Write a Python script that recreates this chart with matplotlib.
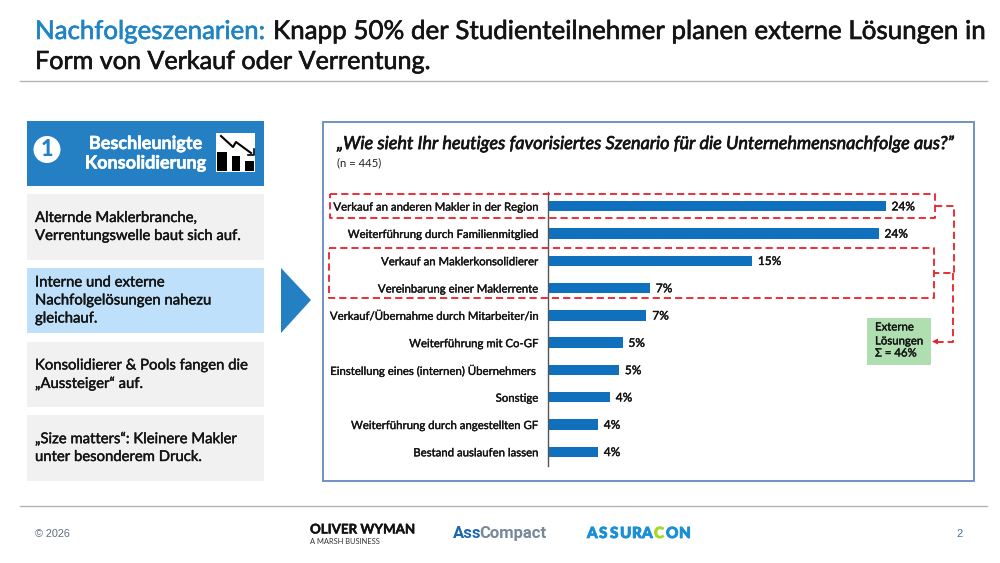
import matplotlib
matplotlib.use("Agg")
import matplotlib.pyplot as plt
import matplotlib.patheffects as pe
from matplotlib.patches import Rectangle, Polygon, Circle

plt.rcParams['font.family'] = ['Lato', 'DejaVu Sans']

categories = ["Verkauf an anderen Makler in der Region", "Weiterführung durch Familienmitglied",
              "Verkauf an Maklerkonsolidierer", "Vereinbarung einer Maklerrente",
              "Verkauf/Übernahme durch Mitarbeiter/in", "Weiterführung mit Co-GF",
              "Einstellung eines (internen) Übernehmers ", "Sonstige",
              "Weiterführung durch angestellten GF", "Bestand auslaufen lassen"]
values = [24.0, 23.5, 14.5, 7.25, 7.0, 5.3, 5.05, 4.4, 3.55, 3.55]
labels = ["24%", "24%", "15%", "7%", "7%", "5%", "5%", "4%", "4%", "4%"]

BLUE = "#2580C3"; BAR = "#0F70BE"; RED = "#E8202A"; INK = "#141414"


def heavy(artist, width=0.35):
    """Thicken regular Lato a little: the reference uses a medium weight."""
    artist.set_path_effects([pe.withStroke(linewidth=width, foreground=artist.get_color())])
    return artist


fig = plt.figure(figsize=(10, 5.63), dpi=100)
bg = fig.add_axes([0, 0, 1, 1]); bg.set_xlim(0, 1000); bg.set_ylim(563, 0); bg.axis("off")

# Title
heavy(bg.text(35, 31.5, "Nachfolgeszenarien:", color="#1F83C4", fontsize=18.6, va="center"), 0.45)
heavy(bg.text(273, 31.5, "Knapp 50% der Studienteilnehmer planen externe Lösungen in", color=INK, fontsize=18.7, va="center"), 0.45)
heavy(bg.text(35, 61.5, "Form von Verkauf oder Verrentung.", color=INK, fontsize=18.1, va="center"), 0.45)
bg.plot([20, 987], [80.5, 80.5], color="#B5B5B5", lw=1)
bg.plot([20, 987], [505.5, 505.5], color="#B5B5B5", lw=1)

# Left column
bg.add_patch(Rectangle((27, 121), 237, 65, color=BLUE, lw=0))
bg.add_patch(Circle((47, 149.5), 13.5, color="white", lw=0))
bg.text(47, 149.5, "1", color=BLUE, fontsize=15.5, ha="center", va="center", fontweight="black")
heavy(bg.text(145.5, 143.5, "Beschleunigte", color="white", fontsize=13, ha="center", va="center", fontweight="bold"), 0.4)
heavy(bg.text(145.5, 163, "Konsolidierung", color="white", fontsize=13, ha="center", va="center", fontweight="bold"), 0.4)
bg.add_patch(Rectangle((216, 133), 39, 39, color="white", lw=0))
for x0, y0, w in [(217, 152, 10), (232, 156, 8), (245, 161, 9)]:
    bg.add_patch(Rectangle((x0, y0), w, 171 - y0, color="black", lw=0))
bg.plot([221, 233, 236, 251], [136, 147, 142, 153], color="black", lw=1.5)
bg.plot([254, 254, 248], [149, 155, 155], color="black", lw=1.2)

boxes = [(194, 66, "#F1F1F1", ["Alternde Maklerbranche,", "Verrentungswelle baut sich auf."]),
         (268, 65, "#BEE0FA", ["Interne und externe", "Nachfolgelösungen nahezu", "gleichauf."]),
         (342, 65, "#F1F1F1", ["Konsolidierer & Pools fangen die", "„Aussteiger“ auf."]),
         (415, 66, "#F1F1F1", ["„Size matters“: Kleinere Makler", "unter besonderem Druck."])]
for y, h, c, lines in boxes:
    bg.add_patch(Rectangle((27, y), 237, h, color=c, lw=0))
    y0 = y + h / 2 - (len(lines) - 1) * 9
    for i, t in enumerate(lines):
        heavy(bg.text(35, y0 + i * 18, t, color=INK, fontsize=10.7, va="center"), 0.3)

bg.add_patch(Polygon([(281, 268), (311, 300), (281, 333)], color=BLUE, lw=0))

# Chart frame
bg.add_patch(Rectangle((322.5, 121.5), 651, 359, fc="white", ec="#6F93C4", lw=1.4))
heavy(bg.text(337, 144, "„Wie sieht Ihr heutiges favorisiertes Szenario für die Unternehmensnachfolge aus?”",
              color=INK, fontsize=13.0, va="center", style="italic"), 0.5)
bg.text(337, 162.5, "(n = 445)", color="#222222", fontsize=8.2, va="center")

# Bars (pixel frame: x0 = 548, 14.07 px per unit)
left, right, top, bottom = 548, 948, 192.5, 465.5
ax = fig.add_axes([left / 1000, 1 - bottom / 563, (right - left) / 1000, (bottom - top) / 563])
ax.patch.set_alpha(0)
pos = list(range(len(values)))
ax.barh(pos, values, height=0.38, color=BAR, lw=0)
ax.set_xlim(0, (right - left) / 14.07)
ax.set_ylim(len(values) - 0.5, -0.5)
ax.set_yticks(pos, categories, fontsize=8.2, color=INK)
ax.tick_params(axis="y", length=0, pad=7)
for tl in ax.get_yticklabels():
    heavy(tl, 0.25)
ax.set_xticks([])
for s in ["top", "right", "bottom"]:
    ax.spines[s].set_visible(False)
ax.spines["left"].set_color("#555555")
ax.spines["left"].set_linewidth(1)
for p, v, l in zip(pos, values, labels):
    heavy(ax.annotate(l, (v, p), xytext=(4.2, -0.5), textcoords="offset points", va="center",
                      fontsize=8.6, color=INK), 0.3)

# Dashed callouts
ov = fig.add_axes([0, 0, 1, 1]); ov.set_xlim(0, 1000); ov.set_ylim(563, 0); ov.axis("off"); ov.patch.set_alpha(0)
dash = dict(color=RED, lw=1.3, ls=(0, (4, 2.2)))
ov.plot([330, 935, 935, 330, 330], [194, 194, 218, 218, 194], **dash)
ov.plot([329, 934, 934, 329, 329], [247.5, 247.5, 298, 298, 247.5], **dash)
ov.plot([935, 954, 954, 934], [205.5, 205.5, 272.5, 272.5], **dash)
ov.plot([953, 953, 934], [272.5, 341.5, 341.5], **dash)
ov.add_patch(Polygon([(932, 341.5), (938, 338.5), (938, 344.5)], color=RED, lw=0))
ov.add_patch(Rectangle((867, 318), 64, 47, color="#AFDFB0", lw=0))
for y, t in [(327, "Externe"), (341, "Lösungen"), (353, "Σ = 46%")]:
    heavy(ov.text(875, y, t, color=INK, fontsize=8.2, va="center"), 0.25)

# Footer
ov.text(35, 534, "© 2026", color="#5A6E80", fontsize=7.8, va="center", family="Liberation Sans")
ov.text(960, 534, "2", color="#4A6FA0", fontsize=8, ha="center", va="center", family="Liberation Sans")
heavy(ov.text(310, 529.5, "OLIVER WYMAN", color="#111111", fontsize=9.6, va="center", fontweight="bold"), 0.3)
ov.text(310, 541, "A MARSH BUSINESS", color="#333333", fontsize=5.4, va="center")
ov.text(453, 533.5, "Ass", color="#1C66B0", fontsize=12, va="center", fontweight="bold", family="Roboto")
ov.text(479, 533.5, "Compact", color="#76889A", fontsize=12, va="center", fontweight="bold", family="Roboto")
logo = [("A", 587, "#1B8FD6"), ("S", 599, "#1B8FD6"), ("S", 610, "#1B8FD6"), ("U", 620, "#1B8FD6"),
        ("R", 632, "#1B8FD6"), ("A", 642, "#1B8FD6"), ("C", 654, "#A6D82A"), ("O", 666, "#1B8FD6"),
        ("N", 679, "#1B8FD6")]
for ch, x, c in logo:
    heavy(ov.text(x, 534, ch, color=c, fontsize=11, va="center", fontweight="black"), 0.6)

fig.savefig("out.png", dpi=100)
